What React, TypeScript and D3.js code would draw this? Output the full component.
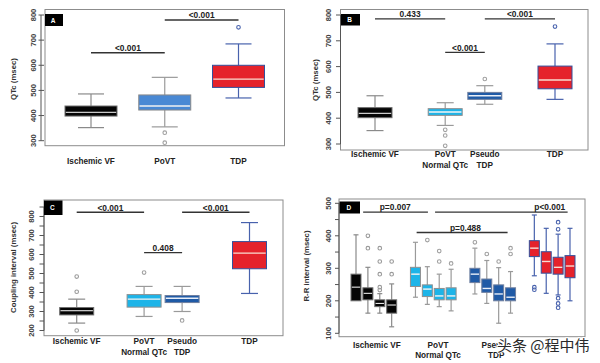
import React from "react";
import * as d3 from "d3";

const FONT = "'Liberation Sans', Arial, Helvetica, sans-serif";

// ---------- Panel A ----------
const labelsA = [["Ischemic VF"], ["PoVT"], ["TDP"]];
const labelPosA = [1, 2, 3];
const posA = [1, 2, 3];
const kindsA = ["ivf", "povtA", "tdp"];
// [low whisker, q1, median, q3, high whisker]
const statsA = [
  [352, 398, 413, 438, 486],
  [355, 422, 438, 482, 552],
  [470, 512, 545, 600, 685],
];
const outliersA = [[], [332, 292], [751]];
const sigA = [
  { from: 1, to: 2, y: 650, label: "<0.001", at: 1.5 },
  { from: 2, to: 3, y: 780, label: "<0.001", at: 2.5 },
];
const ticksA = [300, 400, 500, 600, 700, 800];

// ---------- Panel B ----------
const labelsB = [["Ischemic VF"], ["PoVT", "Normal QTc"], ["Pseudo", "TDP"], ["TDP"]];
const labelPosB = [1, 2.17, 2.83, 4];
const posB = [1, 2.17, 2.83, 4];
const kindsB = ["ivf", "povt", "pseudo", "tdp"];
const statsB = [
  [352, 402, 419, 441, 487],
  [372, 411, 424, 437, 460],
  [454, 473, 487, 500, 526],
  [473, 514, 548, 602, 688],
];
const outliersB = [[], [355, 333, 293], [552], [755]];
const sigB = [
  { from: 1, to: 2.17, y: 785, label: "0.433", at: 1.585 },
  { from: 2.17, to: 2.83, y: 655, label: "<0.001", at: 2.5 },
  { from: 2.83, to: 4, y: 785, label: "<0.001", at: 3.415 },
];
const ticksB = [300, 400, 500, 600, 700, 800];

// ---------- Panel C ----------
const labelsC = [["Ischemic VF"], ["PoVT", "Normal QTc"], ["Pseudo", "TDP"], ["TDP"]];
const labelPosC = [1, 2.17, 2.83, 4];
const posC = [1, 2.17, 2.83, 4];
const kindsC = ["ivf", "povt", "pseudo", "tdp"];
const statsC = [
  [239, 282, 304, 321, 365],
  [274, 323, 365, 389, 432],
  [300, 347, 370, 384, 432],
  [395, 525, 607, 668, 768],
];
const outliersC = [[484, 404, 200], [505], [253], []];
const sigC = [
  { from: 1, to: 2.17, y: 822, label: "<0.001", at: 1.585 },
  { from: 2.17, to: 2.83, y: 610, label: "0.408", at: 2.5 },
  { from: 2.83, to: 4, y: 822, label: "<0.001", at: 3.415 },
];
const ticksC = [200, 250, 300, 350, 400, 450, 500, 550, 600, 650, 700, 750, 800, 850];
const tickLabelsC = [200, 300, 400, 500, 600, 700, 800];

// ---------- Panel D ----------
const labelsD = [["Ischemic VF"], ["PoVT", "Normal QTc"], ["Pseudo", "TDP"]];
const labelPosD = [2.75, 7.9, 12.8];
const posD = [1, 2, 3, 4, 6, 7, 8, 9, 11, 12, 13, 14, 16, 17, 18, 19];
const kindsD = [
  "ivf", "ivf", "ivf", "ivf",
  "povt", "povt", "povt", "povt",
  "pseudo", "pseudo", "pseudo", "pseudo",
  "tdp", "tdp", "tdp", "tdp",
];
const statsD = [
  [200, 200, 242, 282, 403],
  [162, 203, 223, 240, 303],
  [162, 182, 192, 203, 222],
  [120, 162, 187, 203, 252],
  [211, 244, 282, 303, 380],
  [189, 213, 236, 249, 305],
  [182, 203, 215, 238, 282],
  [169, 203, 215, 240, 297],
  [221, 256, 282, 300, 362],
  [192, 226, 238, 267, 324],
  [131, 200, 221, 249, 302],
  [162, 200, 211, 240, 290],
  [277, 336, 362, 385, 464],
  [223, 285, 321, 351, 423],
  [218, 282, 303, 334, 405],
  [200, 271, 307, 339, 423],
];
const outliersD = [
  [], [400, 362], [362, 321, 282, 242, 233], [321, 282],
  [], [387], [353, 321], [315],
  [380], [344], [321], [362, 344],
  [242, 234], [], [442, 420, 208, 192, 179], [],
];
const sigD = [
  { from: 1.6, to: 7.05, y: 473, label: "p=0.007", at: 4.3 },
  { from: 7.65, to: 18.8, y: 473, label: "p<0.001", at: 17.3 },
  { from: 6.1, to: 13.75, y: 410, label: "p=0.488", at: 10.2 },
];
const ticksD = [100, 150, 200, 250, 300, 350, 400, 450, 500];
const tickLabelsD = [100, 200, 300, 400, 500];

const STYLES: Record<string, any> = {
  ivf: { fill: "#050505", stroke: "#6e6e6e", whisker: "#8a8a8a", median: "#ffffff", medianW: 1, outlier: "#9a9a9a" },
  povtA: { fill: "#4a89d4", stroke: "#8a8a8a", whisker: "#9a9a9a", median: "#f2f2f2", medianW: 1.4, outlier: "#a0a0a0" },
  povt: { fill: "#1db4e8", stroke: "#8f8f8f", whisker: "#9a9a9a", median: "#f4f4f4", medianW: 1.4, outlier: "#a0a0a0" },
  pseudo: { fill: "#1f5aa6", stroke: "#6f7f9f", whisker: "#9a9a9a", median: "#e8eef8", medianW: 1.4, outlier: "#a0a0a0" },
  tdp: { fill: "#e5222b", stroke: "#33509c", whisker: "#4862ad", median: "#f8ddd2", medianW: 1.4, outlier: "#4862ad" },
};

type PanelDef = {
  letter: string;
  frame: [number, number, number, number];
  xDomain: [number, number];
  xRange: [number, number];
  yDomain: [number, number];
  yRange: [number, number];
  ticks: number[];
  tickLabels: number[];
  axisX: number;
  tickX0: number;
  tickX1: number;
  tickLabelX: number;
  title: string;
  titleX: number;
  titleY: number;
  letterRect: [number, number, number, number];
  pos: number[];
  kinds: string[];
  stats: number[][];
  outliers: number[][];
  boxW: number;
  sig: { from: number; to: number; y: number; label: string; at: number }[];
  labels: string[][];
  labelPos: number[];
  labelY: [number, number];
};

const panels: PanelDef[] = [
  {
    letter: "A",
    frame: [45, 9.5, 284.5, 145.7],
    xDomain: [1, 3], xRange: [91, 238.5],
    yDomain: [300, 800], yRange: [140.7, 15],
    ticks: ticksA, tickLabels: ticksA,
    axisX: 41, tickX0: 38.5, tickX1: 44, tickLabelX: 33,
    title: "QTc (msec)", titleX: 13, titleY: 79,
    letterRect: [45, 14, 18, 12],
    pos: posA, kinds: kindsA, stats: statsA, outliers: outliersA, boxW: 52,
    sig: sigA, labels: labelsA, labelPos: labelPosA, labelY: [164, 175],
  },
  {
    letter: "B",
    frame: [340.5, 9.5, 588, 150],
    xDomain: [1, 4], xRange: [375, 555],
    yDomain: [300, 800], yRange: [144, 15],
    ticks: ticksB, tickLabels: ticksB,
    axisX: 340.5, tickX0: 336, tickX1: 340.5, tickLabelX: 328,
    title: "QTc (msec)", titleX: 315, titleY: 80,
    letterRect: [341, 14, 19, 11.5],
    pos: posB, kinds: kindsB, stats: statsB, outliers: outliersB, boxW: 34,
    sig: sigB, labels: labelsB, labelPos: labelPosB, labelY: [157, 168],
  },
  {
    letter: "C",
    frame: [44, 200, 283, 335.7],
    xDomain: [1, 4], xRange: [76.7, 249.5],
    yDomain: [200, 800], yRange: [330.5, 216.5],
    ticks: ticksC, tickLabels: tickLabelsC,
    axisX: 44, tickX0: 39.5, tickX1: 44, tickLabelX: 31,
    title: "Coupling interval (msec)", titleX: 13, titleY: 267.5,
    letterRect: [44, 200.5, 18.5, 14.5],
    pos: posC, kinds: kindsC, stats: statsC, outliers: outliersC, boxW: 34,
    sig: sigC, labels: labelsC, labelPos: labelPosC, labelY: [344, 354.5],
  },
  {
    letter: "D",
    frame: [339, 199, 585, 336.7],
    xDomain: [1, 19], xRange: [356, 570],
    yDomain: [100, 500], yRange: [333.3, 203.3],
    ticks: ticksD, tickLabels: tickLabelsD,
    axisX: 339, tickX0: 335, tickX1: 339, tickLabelX: 328.5,
    title: "R-R interval (msec)", titleX: 306, titleY: 266,
    letterRect: [339.5, 201.5, 20.5, 12],
    pos: posD, kinds: kindsD, stats: statsD, outliers: outliersD, boxW: 10,
    sig: sigD, labels: labelsD, labelPos: labelPosD, labelY: [347.5, 357.5],
  },
];

function Panel({ p }: { p: PanelDef }) {
  const x = d3.scaleLinear().domain(p.xDomain).range(p.xRange);
  const y = d3.scaleLinear().domain(p.yDomain).range(p.yRange);
  const [fx0, fy0, fx1, fy1] = p.frame;
  const yMin = d3.min(p.ticks) as number;
  const yMax = d3.max(p.ticks) as number;
  const capW = p.boxW * 0.5;
  return (
    <g>
      <rect x={fx0} y={fy0} width={fx1 - fx0} height={fy1 - fy0} fill="#ffffff" stroke="#8c8c8c" strokeWidth={1} />
      {/* y axis */}
      <line x1={p.axisX} x2={p.axisX} y1={y(yMin)} y2={y(yMax)} stroke="#555" strokeWidth={1} />
      {p.ticks.map((t) => (
        <line key={"t" + t} x1={p.tickX0} x2={p.tickX1} y1={y(t)} y2={y(t)} stroke="#555" strokeWidth={1} />
      ))}
      {p.tickLabels.map((t) => (
        <text
          key={"tl" + t}
          transform={`translate(${p.tickLabelX},${y(t)}) rotate(-90)`}
          textAnchor="middle"
          dominantBaseline="central"
          fontFamily={FONT}
          fontSize={7.6}
          fontWeight="bold"
          fill="#444"
        >
          {t}
        </text>
      ))}
      <text
        transform={`translate(${p.titleX},${p.titleY}) rotate(-90)`}
        textAnchor="middle"
        dominantBaseline="central"
        fontFamily={FONT}
        fontSize={7.8}
        fontWeight="bold"
        fill="#333"
      >
        {p.title}
      </text>
      {/* boxes */}
      {p.stats.map((s, i) => {
        const st = STYLES[p.kinds[i]];
        const cx = x(p.pos[i]);
        const [lo, q1, med, q3, hi] = s;
        return (
          <g key={"b" + i}>
            <line x1={cx} x2={cx} y1={y(hi)} y2={y(q3)} stroke={st.whisker} strokeWidth={1.2} />
            <line x1={cx} x2={cx} y1={y(q1)} y2={y(lo)} stroke={st.whisker} strokeWidth={1.2} />
            <line x1={cx - capW / 2} x2={cx + capW / 2} y1={y(hi)} y2={y(hi)} stroke={st.whisker} strokeWidth={1.2} />
            {lo < q1 && (
              <line x1={cx - capW / 2} x2={cx + capW / 2} y1={y(lo)} y2={y(lo)} stroke={st.whisker} strokeWidth={1.2} />
            )}
            <rect
              x={cx - p.boxW / 2}
              y={y(q3)}
              width={p.boxW}
              height={y(q1) - y(q3)}
              fill={st.fill}
              stroke={st.stroke}
              strokeWidth={1}
            />
            <line
              x1={cx - p.boxW / 2 + 0.8}
              x2={cx + p.boxW / 2 - 0.8}
              y1={y(med)}
              y2={y(med)}
              stroke={st.median}
              strokeWidth={st.medianW}
            />
            {p.outliers[i].map((o, j) => (
              <circle key={"o" + j} cx={cx} cy={y(o)} r={1.8} fill="none" stroke={st.outlier} strokeWidth={1.1} />
            ))}
          </g>
        );
      })}
      {/* significance bars */}
      {p.sig.map((s, i) => (
        <g key={"s" + i}>
          <line x1={x(s.from)} x2={x(s.to)} y1={y(s.y)} y2={y(s.y)} stroke="#333" strokeWidth={1.4} />
          <text
            x={x(s.at)}
            y={y(s.y) - 1.8}
            textAnchor="middle"
            fontFamily={FONT}
            fontSize={8.4}
            fontWeight="bold"
            fill="#222"
          >
            {s.label}
          </text>
        </g>
      ))}
      {/* letter */}
      <rect x={p.letterRect[0]} y={p.letterRect[1]} width={p.letterRect[2]} height={p.letterRect[3]} fill="#000" />
      <text
        x={p.letterRect[0] + p.letterRect[2] / 2 - 1}
        y={p.letterRect[1] + p.letterRect[3] / 2}
        textAnchor="middle"
        dominantBaseline="central"
        fontFamily={FONT}
        fontSize={6.5}
        fontWeight="bold"
        fill="#fff"
      >
        {p.letter}
      </text>
      {/* x labels */}
      {p.labels.map((lines, i) =>
        lines.map((ln, k) => (
          <text
            key={"xl" + i + "_" + k}
            x={x(p.labelPos[i])}
            y={p.labelY[k]}
            textAnchor="middle"
            fontFamily={FONT}
            fontSize={8.2}
            fontWeight="bold"
            fill="#222"
          >
            {ln}
          </text>
        ))
      )}
    </g>
  );
}

export default function App() {
  return (
    <svg
      width={600}
      height={363}
      viewBox="0 0 600 363"
      style={{ position: "absolute", left: 0, top: 0, background: "#fff" }}
    >
      <rect x={0} y={0} width={600} height={363} fill="#fff" />
      {panels.map((p) => (
        <Panel key={p.letter} p={p} />
      ))}
      <text
        x={497}
        y={351}
        fontFamily="'Noto Sans CJK SC', sans-serif"
        fontSize={15}
        fill="#2a2a2a"
        stroke="#ffffff"
        strokeWidth={2}
        paintOrder="stroke"
      >
        头条 @程中伟
      </text>
    </svg>
  );
}
